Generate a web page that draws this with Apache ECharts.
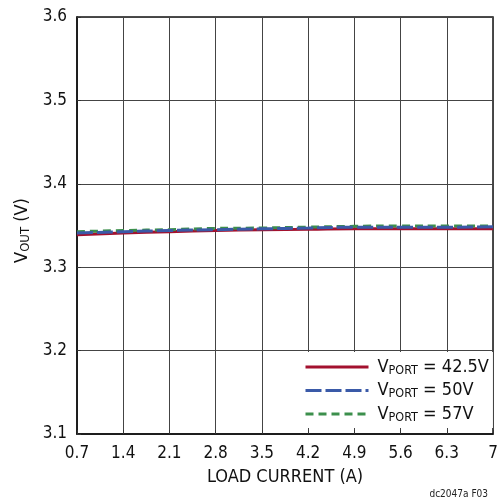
<!DOCTYPE html>
<html>
<head>
<meta charset="utf-8">
<script src="https://cdn.jsdelivr.net/npm/echarts@6/dist/echarts.min.js"></script>
<style>
html,body{margin:0;padding:0;background:#fff;}
#chart{width:502px;height:504px;}
</style>
</head>
<body>
<div id="chart"></div>
<script>
// Data
var loadCurrent = [0.7, 1.4, 2.1, 2.8, 3.5, 4.2, 4.9, 5.6, 6.3, 7];
var vout425 = [3.339, 3.341, 3.3425, 3.344, 3.345, 3.3455, 3.346, 3.346, 3.346, 3.346];
var vout50  = [3.341, 3.3425, 3.344, 3.345, 3.346, 3.347, 3.348, 3.348, 3.348, 3.3485];
var vout57  = [3.3425, 3.344, 3.345, 3.3465, 3.347, 3.348, 3.349, 3.3495, 3.3495, 3.3495];
var seriesNames = ['42.5V', '50V', '57V'];

var FONT = "'Liberation Sans Narrow', 'DejaVu Sans Condensed', 'Liberation Sans', sans-serif";

function pairs(ys) {
  return loadCurrent.map(function (x, i) { return [x, ys[i]]; });
}

var chart = echarts.init(document.getElementById('chart'), null, {renderer: 'canvas'});

var legendRich = {
  v: {fontSize: 18, fontFamily: FONT, color: '#111', padding: [0, 0, 0, 4]},
  s: {fontSize: 12.5, fontFamily: FONT, color: '#111', padding: [7, 0, 0, 0]},
  t: {fontSize: 18, fontFamily: FONT, color: '#111'}
};

chart.setOption({
  animation: false,
  backgroundColor: '#fff',
  title: {
    text: 'dc2047a F03',
    right: 9,
    bottom: 0,
    textStyle: {fontSize: 10, fontWeight: 'normal', fontFamily: FONT, color: '#222'}
  },
  grid: {
    left: 77, right: 9, top: 17, bottom: 70,
    show: true, borderColor: '#111', borderWidth: 1.5, backgroundColor: 'transparent'
  },
  legend: {
    orient: 'vertical',
    left: 297,
    top: 352,
    backgroundColor: '#fff',
    padding: [6, 4, 4, 7],
    itemWidth: 63,
    itemHeight: 14,
    itemGap: 4.5,
    itemStyle: {opacity: 0},
    lineStyle: {width: 3},
    data: ['V_PORT = 42.5V', 'V_PORT = 50V', 'V_PORT = 57V'],
    formatter: function (name) {
      return '{v|V}{s|PORT}{t| = ' + name.split('= ')[1] + '}';
    },
    textStyle: {rich: legendRich}
  },
  xAxis: {
    type: 'value',
    min: 0.7, max: 7, interval: 0.7,
    name: 'LOAD CURRENT (A)',
    nameLocation: 'middle',
    nameGap: 34,
    nameTextStyle: {fontSize: 18, fontFamily: FONT, color: '#111'},
    axisLine: {show: true, lineStyle: {color: '#111', width: 1.5}},
    axisTick: {show: true, inside: true, length: 4, lineStyle: {color: '#333'}},
    axisLabel: {
      fontSize: 17, fontFamily: FONT, color: '#111', margin: 11,
      formatter: function (v) { return String(Math.round(v * 10) / 10); }
    },
    splitLine: {show: true, lineStyle: {color: '#444', width: 1}}
  },
  yAxis: {
    type: 'value',
    min: 3.1, max: 3.6, interval: 0.1,
    name: '{v|V}{s|OUT}{v| (V)}',
    nameLocation: 'middle',
    nameRotate: 90,
    nameGap: 43,
    nameTextStyle: {
      padding: [0, 10, 0, 0],
      rich: {
        v: {fontSize: 18, fontFamily: FONT, color: '#111'},
        s: {fontSize: 13, fontFamily: FONT, color: '#111', padding: [6, 0, 0, 0]}
      }
    },
    axisLine: {show: true, lineStyle: {color: '#111', width: 1.5}},
    axisTick: {show: true, inside: true, length: 4, lineStyle: {color: '#333'}},
    axisLabel: {
      fontSize: 17, fontFamily: FONT, color: '#111', margin: 10,
      formatter: function (v) { return v.toFixed(1); }
    },
    splitLine: {show: true, lineStyle: {color: '#444', width: 1}}
  },
  series: [
    {
      name: 'V_PORT = 42.5V', type: 'line', data: pairs(vout425),
      symbol: 'none', smooth: true, z: 2,
      lineStyle: {color: '#a3112e', width: 3, type: 'solid'},
      itemStyle: {color: '#a3112e'}
    },
    {
      name: 'V_PORT = 57V', type: 'line', data: pairs(vout57),
      symbol: 'none', smooth: true, z: 3,
      lineStyle: {color: '#3c8f4c', width: 3, type: [8, 5]},
      itemStyle: {color: '#3c8f4c'}
    },
    {
      name: 'V_PORT = 50V', type: 'line', data: pairs(vout50),
      symbol: 'none', smooth: true, z: 4,
      lineStyle: {color: '#3a5aa8', width: 3, type: [16, 4]},
      itemStyle: {color: '#3a5aa8'}
    }
  ]
});
</script>
</body>
</html>
